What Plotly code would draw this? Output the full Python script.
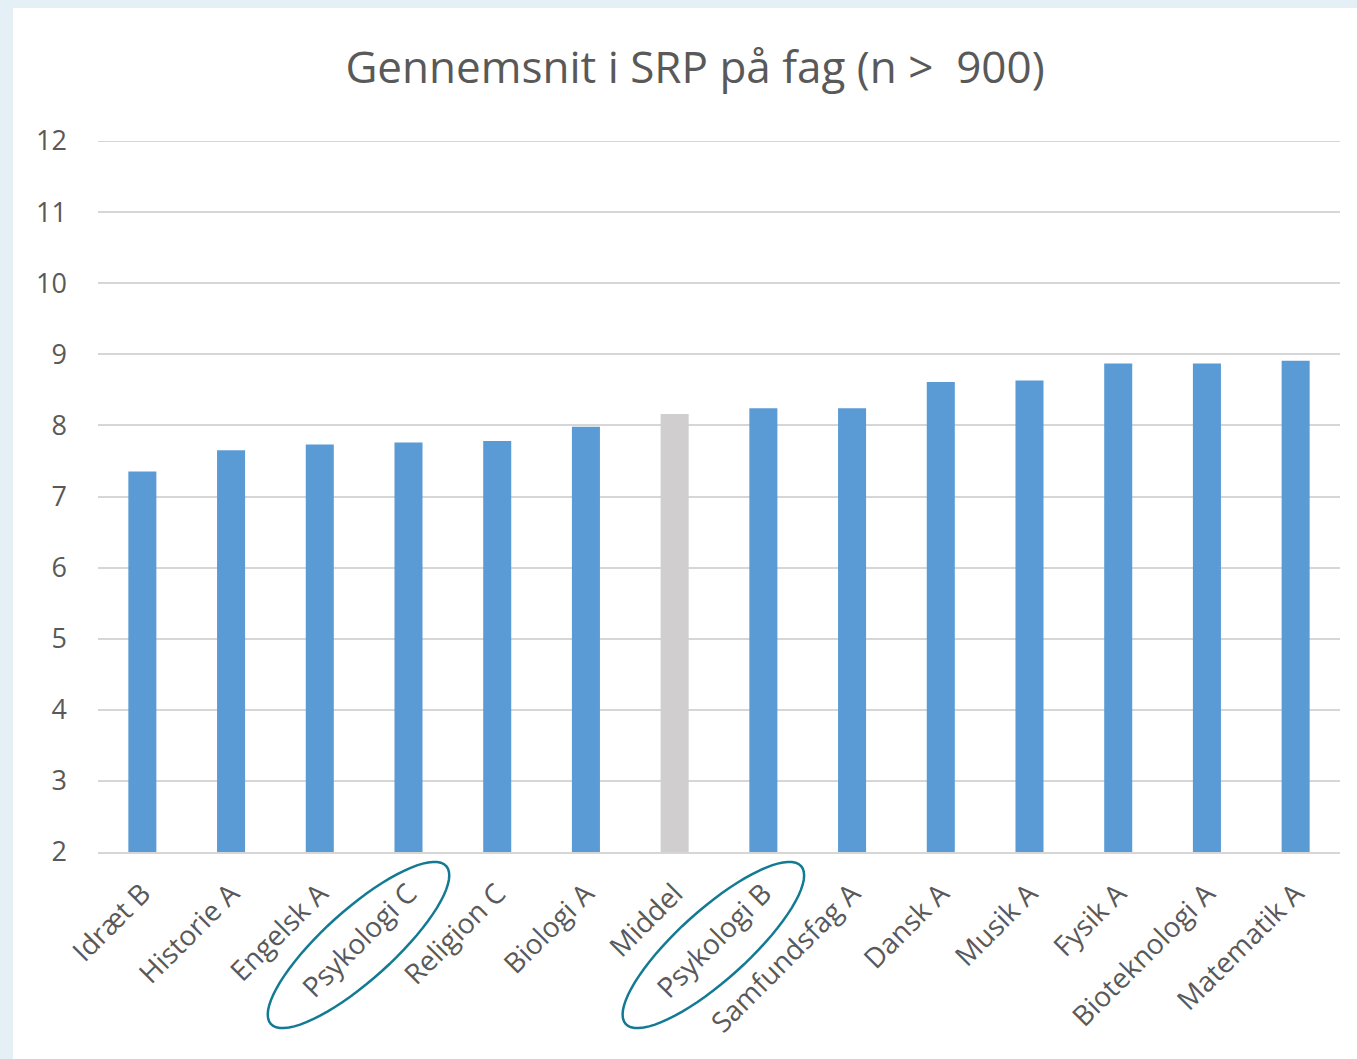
import numpy as np
import plotly.graph_objects as go

categories = ["Idræt B", "Historie A", "Engelsk A", "Psykologi C", "Religion C",
              "Biologi A", "Middel", "Psykologi B", "Samfundsfag A", "Dansk A",
              "Musik A", "Fysik A", "Bioteknologi A", "Matematik A"]
values = [7.35, 7.65, 7.73, 7.76, 7.78, 7.98, 8.16, 8.24, 8.24, 8.61, 8.63, 8.87, 8.87, 8.91]
highlight = "Middel"
circled = ["Psykologi C", "Psykologi B"]
y_ticks = [2, 3, 4, 5, 6, 7, 8, 9, 10, 11, 12]
title_text = "Gennemsnit i SRP på fag (n >  900)"

W, H = 1357, 1059
L, R, T, B = 98, 17, 141, 207
PW, PH = W - L - R, H - T - B

BLUE = "#5B9BD5"
GREY = "#D0CECE"
TXT = "#595959"
GRID = "#D6D6D6"
FONT = "Open Sans"

colors = [GREY if c == highlight else BLUE for c in categories]

fig = go.Figure()
fig.add_trace(go.Bar(x=categories, y=values, marker=dict(color=colors, line=dict(width=0)),
                     hoverinfo="x+y"))


def px2paper(px, py):
    return (px - L) / PW, (H - B - py) / PH


shapes = []
# outer light-blue frame (left and top)
x0, _ = px2paper(0, 0)
x1, _ = px2paper(13, 0)
_, ytop = px2paper(0, 0)
_, ybot = px2paper(0, H)
shapes.append(dict(type="rect", xref="paper", yref="paper", x0=x0, x1=x1, y0=ybot, y1=ytop,
                   fillcolor="#E4EFF6", line=dict(width=0), layer="below"))
_, yb = px2paper(0, 8)
x2, _ = px2paper(W, 0)
shapes.append(dict(type="rect", xref="paper", yref="paper", x0=x0, x1=x2, y0=yb, y1=ytop,
                   fillcolor="#E4EFF6", line=dict(width=0), layer="below"))

# top gridline (range edge)
shapes.append(dict(type="line", xref="paper", yref="y", x0=0, x1=1, y0=y_ticks[-1], y1=y_ticks[-1],
                   line=dict(color=GRID, width=2), layer="below"))

# rotated ellipses around circled labels
slot = PW / len(categories)
for name in circled:
    i = categories.index(name)
    cxp = L + slot * (i + 0.5) - 50
    cyp = H - B + 93
    a, b, th = 118, 35, np.deg2rad(42)
    t = np.linspace(0, 2 * np.pi, 73)
    ex = cxp + a * np.cos(t) * np.cos(th) + b * np.sin(t) * np.sin(th)
    ey = cyp - a * np.cos(t) * np.sin(th) + b * np.sin(t) * np.cos(th)
    pts = [px2paper(xx, yy) for xx, yy in zip(ex, ey)]
    path = "M " + " L ".join(f"{p[0]:.5f},{p[1]:.5f}" for p in pts) + " Z"
    shapes.append(dict(type="path", xref="paper", yref="paper", path=path,
                       line=dict(color="#137A94", width=2.5), layer="above"))

fig.update_layout(
    width=W, height=H,
    margin=dict(l=L, r=R, t=T, b=B, autoexpand=False),
    paper_bgcolor="white", plot_bgcolor="white",
    showlegend=False,
    bargap=0.684,
    title=dict(text=title_text, x=695 / W, xanchor="center", y=1 - 68 / H, yanchor="middle",
               font=dict(family=FONT, size=44, color=TXT)),
    font=dict(family=FONT, color=TXT),
    xaxis=dict(tickangle=-45, tickfont=dict(family=FONT, size=28, color=TXT),
               showline=True, linecolor=GRID, linewidth=2, ticks="", showgrid=False,
               ticklabelstandoff=12),
    yaxis=dict(range=[2, 12], tickvals=y_ticks, tickfont=dict(family=FONT, size=27, color=TXT),
               showgrid=True, gridcolor=GRID, gridwidth=2, zeroline=False, showline=False,
               ticks="", ticklabelstandoff=30),
    shapes=shapes,
)

fig.write_html("out.html", config={"displayModeBar": False},
               post_script="document.body.style.margin='0';document.body.style.background='white';")
